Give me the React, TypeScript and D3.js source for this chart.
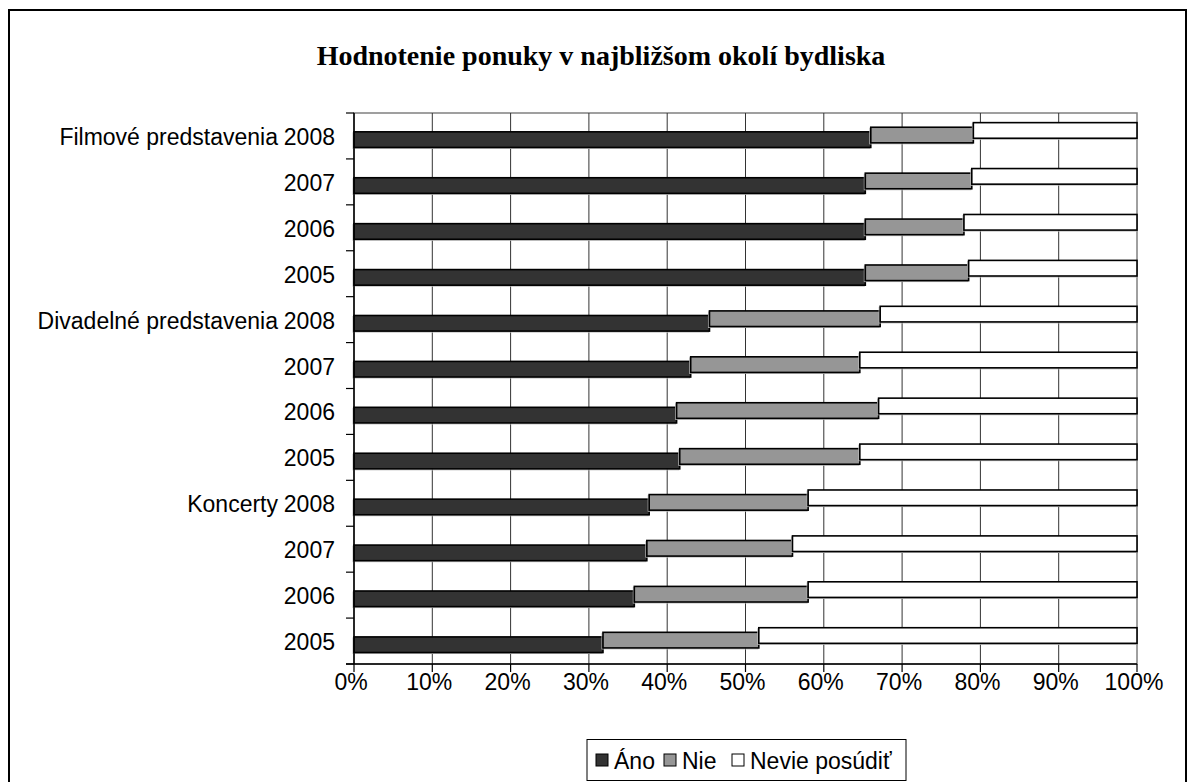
import { useRef, useEffect } from "react";
import * as d3 from "d3";

const width = 1194;
const height = 782;

const groups = ["Filmové predstavenia", "Divadelné predstavenia", "Koncerty"];
const years = ["2008", "2007", "2006", "2005"];
const series = ["Áno", "Nie", "Nevie posúdiť"];
const COLORS = ["#333333", "#969696", "#ffffff"];

// rows top to bottom: each group, years 2008..2005
const ano = [66.0, 65.3, 65.3, 65.3, 45.4, 43.0, 41.2, 41.6, 37.7, 37.4, 35.8, 31.8];
const nie = [13.1, 13.6, 12.6, 13.2, 21.8, 21.6, 25.8, 23.0, 20.3, 18.6, 22.2, 19.9];
const xTicks = [0, 10, 20, 30, 40, 50, 60, 70, 80, 90, 100];

const margin = { left: 354, right: 1137, top: 113, bottom: 664 };

export default function App() {
  const ref = useRef<SVGSVGElement | null>(null);

  useEffect(() => {
    const svg = d3.select(ref.current);
    svg.selectAll("*").remove();

    const rows = groups.flatMap((g) => years.map((y) => ({ g, y })));
    const data = rows.map((r, i) => {
      const a = ano[i];
      const n = nie[i];
      return { ...r, key: `${r.g}-${r.y}`, vals: [a, n, 100 - a - n] };
    });

    const x = d3.scaleLinear().domain([0, 100]).range([margin.left, margin.right]);
    const y = d3
      .scaleBand()
      .domain(data.map((d) => d.key))
      .range([margin.top, margin.bottom]);
    const bw = y.bandwidth();
    const barH = bw * 0.34;
    const shift = bw * 0.1;

    // outer frame
    svg
      .append("rect")
      .attr("x", 9)
      .attr("y", 10)
      .attr("width", 1177)
      .attr("height", 800)
      .attr("fill", "#fff")
      .attr("stroke", "#000")
      .attr("stroke-width", 2);

    svg
      .append("text")
      .attr("x", 601)
      .attr("y", 65)
      .attr("text-anchor", "middle")
      .attr("font-family", "'Liberation Serif', 'Times New Roman', serif")
      .attr("font-weight", "bold")
      .attr("font-size", 28)
      .text("Hodnotenie ponuky v najbližšom okolí bydliska");

    // plot frame (gray)
    svg
      .append("rect")
      .attr("x", margin.left)
      .attr("y", margin.top)
      .attr("width", margin.right - margin.left)
      .attr("height", margin.bottom - margin.top)
      .attr("fill", "none")
      .attr("stroke", "#808080")
      .attr("stroke-width", 1.5);

    // gridlines
    svg
      .append("g")
      .selectAll("line")
      .data(xTicks.slice(1, -1))
      .join("line")
      .attr("x1", (d) => x(d))
      .attr("x2", (d) => x(d))
      .attr("y1", margin.top)
      .attr("y2", margin.bottom)
      .attr("stroke", "#333")
      .attr("stroke-width", 1);

    // bars
    data.forEach((d) => {
      let acc = 0;
      const base = y(d.key)! + bw * 0.41;
      d.vals.forEach((v, i) => {
        const yy = base - i * shift;
        svg
          .append("rect")
          .attr("x", x(acc) - 1)
          .attr("y", yy + 1)
          .attr("width", x(acc + v) - x(acc))
          .attr("height", barH)
          .attr("fill", "none")
          .attr("stroke", "#bbb")
          .attr("stroke-width", 1);
        svg
          .append("rect")
          .attr("x", x(acc))
          .attr("y", yy)
          .attr("width", x(acc + v) - x(acc))
          .attr("height", barH)
          .attr("fill", COLORS[i])
          .attr("stroke", "#000")
          .attr("stroke-width", 1.6);
        acc += v;
      });
    });

    // axes
    const yAxis = svg.append("g");
    yAxis
      .append("line")
      .attr("x1", margin.left)
      .attr("x2", margin.left)
      .attr("y1", margin.top)
      .attr("y2", margin.bottom)
      .attr("stroke", "#000")
      .attr("stroke-width", 1.5);
    yAxis
      .selectAll("line.tick")
      .data(d3.range(data.length + 1))
      .join("line")
      .attr("class", "tick")
      .attr("x1", margin.left - 8)
      .attr("x2", margin.left)
      .attr("y1", (i) => margin.top + i * bw)
      .attr("y2", (i) => margin.top + i * bw)
      .attr("stroke", "#000")
      .attr("stroke-width", 1.2);

    const font = "Arial, 'Liberation Sans', sans-serif";
    const fs = 23;
    svg
      .append("g")
      .selectAll("text")
      .data(data)
      .join("text")
      .attr("x", 335)
      .attr("y", (d) => y(d.key)! + bw / 2 + 9)
      .attr("text-anchor", "end")
      .attr("font-family", font)
      .attr("font-size", fs)
      .text((d) => d.y);

    svg
      .append("g")
      .selectAll("text")
      .data(groups)
      .join("text")
      .attr("x", 278)
      .attr("y", (g) => y(`${g}-2008`)! + bw / 2 + 9)
      .attr("text-anchor", "end")
      .attr("font-family", font)
      .attr("font-size", fs)
      .text((g) => g);

    const xAxis = svg.append("g");
    xAxis
      .append("line")
      .attr("x1", margin.left - 8)
      .attr("x2", margin.right)
      .attr("y1", margin.bottom)
      .attr("y2", margin.bottom)
      .attr("stroke", "#000")
      .attr("stroke-width", 1.5);
    xAxis
      .selectAll("line.tick")
      .data(xTicks)
      .join("line")
      .attr("class", "tick")
      .attr("x1", (d) => x(d))
      .attr("x2", (d) => x(d))
      .attr("y1", margin.bottom)
      .attr("y2", margin.bottom + 8)
      .attr("stroke", "#000")
      .attr("stroke-width", 1.2);
    xAxis
      .selectAll("text")
      .data(xTicks)
      .join("text")
      .attr("x", (d) => x(d) - 3)
      .attr("y", 690)
      .attr("text-anchor", "middle")
      .attr("font-family", font)
      .attr("font-size", fs)
      .text((d) => `${d}%`);

    // legend
    const lg = svg.append("g");
    lg.append("rect")
      .attr("x", 587)
      .attr("y", 739.5)
      .attr("width", 319)
      .attr("height", 41)
      .attr("fill", "#fff")
      .attr("stroke", "#000")
      .attr("stroke-width", 1);
    const itemX = [596, 664, 732];
    series.forEach((s, i) => {
      lg.append("rect")
        .attr("x", itemX[i])
        .attr("y", 754)
        .attr("width", 12)
        .attr("height", 12)
        .attr("fill", COLORS[i])
        .attr("stroke", "#000")
        .attr("stroke-width", 1);
      lg.append("text")
        .attr("x", itemX[i] + 18)
        .attr("y", 769)
        .attr("font-family", font)
        .attr("font-size", fs)
        .text(s);
    });
  }, []);

  return (
    <svg
      ref={ref}
      width={width}
      height={height}
      style={{ position: "absolute", left: 0, top: 0 }}
    />
  );
}
